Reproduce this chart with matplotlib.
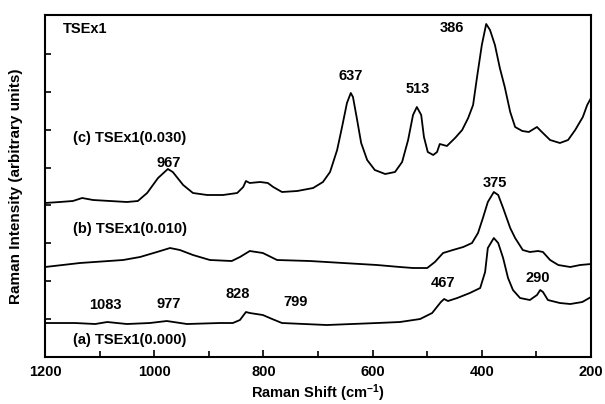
import matplotlib
matplotlib.use("Agg")
import matplotlib.pyplot as plt
from matplotlib.ticker import MultipleLocator

plt.rcParams['font.family'] = ['Liberation Sans', 'DejaVu Sans']
plt.rcParams['font.weight'] = 'bold'
plt.rcParams['mathtext.fontset'] = 'custom'
plt.rcParams['mathtext.rm'] = 'Liberation Sans:bold'
plt.rcParams['mathtext.it'] = 'Liberation Sans:bold'
plt.rcParams['mathtext.bf'] = 'Liberation Sans:bold'

# Raman shift (cm-1) and intensity (arbitrary units)
c_shift = [1200, 1173, 1149, 1132, 1112, 1081, 1050, 1030, 1013, 993, 975, 966,
           947, 929, 903, 874, 848, 837, 832, 825, 806, 792, 782, 766, 738, 709,
           691, 678, 665, 656, 647, 640, 636, 629, 621, 610, 596, 577, 559, 546,
           535, 526, 519, 511, 506, 499, 489, 482, 477, 464, 449, 436, 425, 416,
           409, 400, 392, 385, 376, 367, 358, 348, 339, 326, 314, 299, 290, 275,
           257, 242, 229, 215, 207, 200]
c_int = [154, 155, 156, 159, 157, 156, 155, 156, 164, 179, 188, 185,
         172, 164, 162, 162, 164, 170, 176, 174, 175, 174, 170, 165, 166, 169,
         175, 185, 207, 230, 254, 264, 260, 239, 214, 197, 187, 183, 185, 195,
         217, 242, 250, 242, 220, 205, 202, 205, 213, 211, 219, 227, 239, 252,
         279, 312, 333, 327, 312, 289, 270, 245, 230, 226, 225, 230, 225, 217,
         214, 217, 227, 240, 252, 259]

b_shift = [1200, 1136, 1057, 1026, 995, 971, 953, 929, 898, 858, 843, 825, 801,
           775, 715, 654, 592, 550, 526, 500, 486, 471, 453, 434, 418, 407, 398,
           389, 378, 370, 361, 348, 339, 325, 312, 297, 288, 275, 260, 238, 220,
           200]
b_int = [90, 94, 97, 100, 105, 109, 107, 102, 97, 96, 100, 106, 104,
         97, 96, 94, 92, 90, 89, 89, 95, 104, 107, 110, 114, 124, 139,
         155, 165, 162, 149, 129, 119, 107, 105, 106, 105, 97, 92, 90, 92,
         93]

a_shift = [1200, 1145, 1108, 1086, 1050, 1008, 977, 940, 880, 856, 843, 832, 825,
           801, 784, 766, 684, 592, 550, 513, 491, 475, 469, 462, 445, 422, 403,
           394, 389, 378, 370, 361, 352, 343, 330, 312, 299, 293, 288, 279, 257,
           238, 216, 200]
a_int = [34, 34, 33, 35, 33, 34, 36, 33, 34, 34, 37, 45, 44,
         42, 38, 34, 32, 34, 35, 38, 44, 55, 58, 56, 59, 64, 69,
         85, 109, 119, 114, 99, 79, 67, 59, 57, 62, 67, 65, 57, 54,
         53, 55, 60]

peak_labels = ['967', '637', '513', '386', '375', '1083', '977', '828', '799', '467', '290']
peak_x = [973, 641, 517, 455, 376, 1090, 973, 847, 742, 471, 297]
peak_y = [194, 281, 268, 329, 174, 52, 53, 63, 55, 74, 79]

series_labels = ['(c) TSEx1(0.030)', '(b) TSEx1(0.010)', '(a) TSEx1(0.000)']
series_label_y = [219, 128, 17]

fig = plt.figure(figsize=(6.05, 4.04), dpi=100)
ax = fig.add_axes([0.0744, 0.1163, 0.9025, 0.8466])

for xs, ys in [(c_shift, c_int), (b_shift, b_int), (a_shift, a_int)]:
    ax.plot(xs, ys, color='black', lw=1.3, solid_joinstyle='round')

ax.set_xlim(1200, 200)
ax.set_ylim(0, 342)
ax.xaxis.set_major_locator(MultipleLocator(200))
ax.xaxis.set_minor_locator(MultipleLocator(100))
ax.set_yticks([37.9 * i for i in range(1, 9)])
ax.set_yticklabels([])
ax.tick_params(axis='x', which='major', direction='in', length=5, width=1.2,
               labelsize=10.5, pad=6)
ax.tick_params(axis='x', which='minor', direction='in', length=4, width=1.2)
ax.tick_params(axis='y', direction='in', length=4, width=1.2)
for lab in ax.get_xticklabels():
    lab.set_fontweight('bold')
for sp in ax.spines.values():
    sp.set_linewidth(1.5)

ax.set_xlabel(r'Raman Shift (cm$^{-1}$)', fontsize=10.5, fontweight='bold', labelpad=2)
ax.set_ylabel('Raman Intensity (arbitrary units)', fontsize=11, fontweight='bold', labelpad=12)

ax.text(1167, 328, 'TSEx1', fontsize=10.5, fontweight='bold', ha='left', va='center')
for t, y in zip(series_labels, series_label_y):
    ax.text(1149, y, t, fontsize=10.5, fontweight='bold', ha='left', va='center')
for t, x, y in zip(peak_labels, peak_x, peak_y):
    ax.text(x, y, t, fontsize=10.5, fontweight='bold', ha='center', va='center')

fig.savefig('out.png', dpi=100)
